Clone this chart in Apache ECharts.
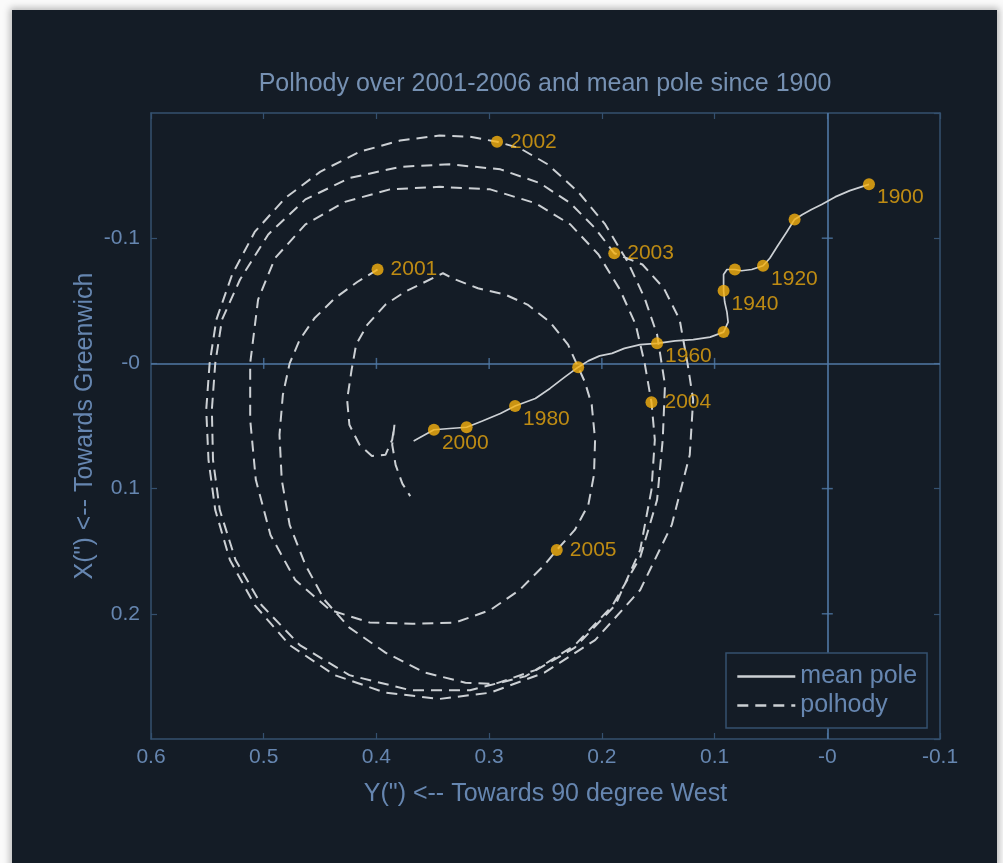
<!DOCTYPE html>
<html>
<head>
<meta charset="utf-8">
<script src="https://cdn.jsdelivr.net/npm/echarts@6/dist/echarts.min.js"></script>
<style>
  html, body { margin: 0; padding: 0; width: 1003px; height: 863px; overflow: hidden; background: #fafafa; }
  #panel { position: absolute; left: 12px; top: 10px; width: 985px; height: 880px; background: #141c26;
           box-shadow: 0 0 7px 2px rgba(0, 0, 0, 0.28); }
  #chart { position: absolute; left: 0; top: 0; width: 1003px; height: 863px; }
</style>
</head>
<body>
<div id="panel"></div>
<div id="chart"></div>
<script>
// Axis ticks (arcseconds)
const xTickValues = [-0.1, 0, 0.1, 0.2, 0.3, 0.4, 0.5, 0.6];
const xTickLabels = ['-0.1', '-0', '0.1', '0.2', '0.3', '0.4', '0.5', '0.6'];
const yTickValues = [-0.2, -0.1, 0, 0.1, 0.2, 0.3];
const yTickLabels = ['', '-0.1', '-0', '0.1', '0.2', ''];

// Mean pole path since 1900: Y (towards 90 W) and X (towards Greenwich)
const meanPoleY = [-0.037, -0.020, -0.007, 0.005, 0.014, 0.022, 0.029, 0.036, 0.044, 0.051, 0.057,
  0.067, 0.076, 0.082, 0.089, 0.092, 0.092, 0.092, 0.091, 0.089, 0.088, 0.092, 0.104, 0.119, 0.135,
  0.151, 0.166, 0.180, 0.191, 0.202, 0.212, 0.221, 0.233, 0.246, 0.259, 0.277, 0.290, 0.306, 0.320,
  0.335, 0.349, 0.361, 0.367];
const meanPoleX = [-0.143, -0.138, -0.133, -0.127, -0.123, -0.119, -0.115, -0.105, -0.094, -0.084, -0.078,
  -0.075, -0.074, -0.075, -0.075, -0.071, -0.064, -0.058, -0.049, -0.041, -0.033, -0.025, -0.021, -0.019, -0.018,
  -0.016, -0.015, -0.012, -0.008, -0.006, -0.002, 0.003, 0.011, 0.020, 0.028, 0.034, 0.040, 0.046, 0.051,
  0.052, 0.053, 0.059, 0.062];

// Mean pole every ten years
const decadeYears = [1900, 1910, 1920, 1930, 1940, 1950, 1960, 1970, 1980, 1990, 2000];
const decadeY = [-0.037, 0.029, 0.057, 0.082, 0.092, 0.092, 0.151, 0.221, 0.277, 0.320, 0.349];
const decadeX = [-0.143, -0.115, -0.078, -0.075, -0.058, -0.025, -0.016, 0.003, 0.034, 0.051, 0.053];
const decadeLabelled = [1900, 1920, 1940, 1960, 1980, 2000];

// Polhody 2001-2006, one row per year
const polhodyY = [
  // 2001
  0.399, 0.417, 0.437, 0.455, 0.468, 0.477, 0.483, 0.486, 0.484, 0.477, 0.463, 0.446, 0.424, 0.392, 0.357, 0.321,
  0.295, 0.259, 0.224, 0.191, 0.166, 0.151, 0.146, 0.144, 0.151, 0.162, 0.177, 0.197, 0.221, 0.248, 0.273,
  // 2002
  0.293, 0.317, 0.344, 0.379, 0.415, 0.450, 0.481, 0.508, 0.528, 0.542, 0.548, 0.551, 0.549, 0.543, 0.530, 0.508,
  0.477, 0.437, 0.392, 0.344, 0.299, 0.251, 0.206, 0.166, 0.138, 0.122, 0.119, 0.124, 0.131, 0.145, 0.164,
  // 2003
  0.189, 0.206, 0.228, 0.255, 0.290, 0.335, 0.379, 0.424, 0.463, 0.496, 0.521, 0.537, 0.543, 0.546, 0.545, 0.539,
  0.525, 0.502, 0.468, 0.424, 0.370, 0.317, 0.268, 0.224, 0.188, 0.166, 0.156, 0.153,
  // 2004
  0.156, 0.162, 0.170, 0.184, 0.203, 0.228, 0.259, 0.299, 0.344, 0.388, 0.428, 0.463, 0.490, 0.505, 0.512, 0.512,
  0.507, 0.494, 0.472, 0.441, 0.406, 0.368, 0.330, 0.299, 0.273, 0.251,
  // 2005
  0.240, 0.224, 0.212, 0.207, 0.206, 0.209, 0.215, 0.221, 0.230, 0.246, 0.266, 0.286, 0.310, 0.330, 0.341, 0.357,
  0.375, 0.392, 0.408, 0.418, 0.422, 0.426, 0.424, 0.415, 0.404, 0.392, 0.386, 0.384, 0.386, 0.383, 0.377, 0.370];
const polhodyX = [
  // 2001
  -0.075, -0.065, -0.052, -0.036, -0.019, 0.000, 0.025, 0.057, 0.093, 0.129, 0.161, 0.189, 0.211, 0.231, 0.247, 0.255,
  0.256, 0.245, 0.225, 0.194, 0.155, 0.109, 0.061, 0.017, -0.023, -0.052, -0.081, -0.111, -0.137, -0.159, -0.172,
  // 2002
  -0.177, -0.181, -0.182, -0.178, -0.169, -0.153, -0.132, -0.105, -0.071, -0.035, 0.000, 0.037, 0.077, 0.117, 0.157, 0.193,
  0.225, 0.249, 0.263, 0.268, 0.263, 0.247, 0.221, 0.181, 0.129, 0.073, 0.029, 0.000, -0.035, -0.060, -0.079,
  // 2003
  -0.088, -0.108, -0.128, -0.144, -0.155, -0.159, -0.157, -0.148, -0.131, -0.103, -0.067, -0.035, 0.000, 0.037, 0.077, 0.117,
  0.157, 0.193, 0.225, 0.249, 0.261, 0.261, 0.250, 0.227, 0.193, 0.149, 0.101, 0.061,
  // 2004
  0.031, 0.000, -0.031, -0.059, -0.087, -0.111, -0.128, -0.139, -0.141, -0.139, -0.129, -0.111, -0.084, -0.051, 0.000, 0.045,
  0.093, 0.137, 0.173, 0.197, 0.207, 0.208, 0.207, 0.197, 0.181, 0.161,
  // 2005
  0.149, 0.133, 0.113, 0.089, 0.061, 0.033, 0.015, 0.003, -0.015, -0.033, -0.047, -0.055, -0.060, -0.067, -0.072, -0.065,
  -0.057, -0.047, -0.031, -0.015, 0.005, 0.029, 0.049, 0.065, 0.074, 0.073, 0.061, 0.049, 0.065, 0.081, 0.096, 0.106];

// Start of each year along the polhody
const polhodyYears = [2001, 2002, 2003, 2004, 2005];
const polhodyYearY = [0.399, 0.293, 0.189, 0.156, 0.240];
const polhodyYearX = [-0.075, -0.177, -0.088, 0.031, 0.149];

// Ticks drawn across the zero lines
const zeroLineYTicks = [0.1, 0.2, 0.3, 0.4, 0.5];
const zeroLineXTicks = [-0.1, 0.1, 0.2];

const AXIS = '#34506f';
const ZERO = '#5079a6';
const TEXT = '#6686b0';
const LINE = '#ccd0d4';
const GOLD = '#f6b20f';
const LABEL = '#e8a70f';
const FONT = 'Liberation Sans, Arial, Helvetica, sans-serif';

function pairs(a, b) { return a.map((v, i) => [v, b[i]]); }
function tickText(values, labels) {
  return v => {
    const i = values.findIndex(t => Math.abs(t - v) < 1e-9);
    return i >= 0 ? labels[i] : '';
  };
}

const chart = echarts.init(document.getElementById('chart'), null, { renderer: 'canvas' });

const baseX = {
  type: 'value', min: -0.1, max: 0.6, interval: 0.1, inverse: true,
  splitLine: { show: false },
  axisLine: { show: true, onZero: false, lineStyle: { color: AXIS, width: 1.5 } },
  axisTick: { show: true, inside: true, length: 6, lineStyle: { color: AXIS, width: 1.2 } }
};
const baseY = {
  type: 'value', min: -0.2, max: 0.3, interval: 0.1, inverse: true,
  splitLine: { show: false },
  axisLine: { show: true, onZero: false, lineStyle: { color: AXIS, width: 1.5 } },
  axisTick: { show: true, inside: true, length: 6, lineStyle: { color: AXIS, width: 1.2 } }
};

chart.setOption({
  backgroundColor: 'transparent',
  animation: false,
  textStyle: { fontFamily: FONT },
  title: {
    text: 'Polhody over 2001-2006 and mean pole since 1900',
    left: 540, top: 67, textAlign: 'center',
    textStyle: { color: '#7691b3', fontSize: 25, fontWeight: 'normal', fontFamily: FONT }
  },
  grid: { left: 151, right: 63, top: 113, bottom: 124, containLabel: false },
  xAxis: [
    Object.assign({}, baseX, {
      position: 'bottom',
      name: 'Y(") <-- Towards 90 degree West', nameLocation: 'middle', nameGap: 43,
      nameTextStyle: { color: TEXT, fontSize: 25, fontFamily: FONT },
      axisLabel: { color: TEXT, fontSize: 21, margin: 8, fontFamily: FONT, formatter: tickText(xTickValues, xTickLabels) }
    }),
    Object.assign({}, baseX, { position: 'top', axisLabel: { show: false } })
  ],
  yAxis: [
    Object.assign({}, baseY, {
      position: 'left',
      name: 'X(") <-- Towards Greenwich', nameLocation: 'middle', nameGap: 53, nameRotate: 90,
      nameMoveOverlap: false,
      nameTextStyle: { color: TEXT, fontSize: 25, fontFamily: FONT },
      axisLabel: { color: TEXT, fontSize: 21, margin: 11, fontFamily: FONT,
        showMinLabel: false, showMaxLabel: false, formatter: tickText(yTickValues, yTickLabels) }
    }),
    Object.assign({}, baseY, { position: 'right', axisLabel: { show: false } })
  ],
  legend: {
    orient: 'vertical', left: 726, top: 653,
    padding: [11, 10, 10, 10], itemGap: 4, itemWidth: 58, itemHeight: 14,
    backgroundColor: '#141c26', borderColor: AXIS, borderWidth: 1.5,
    itemStyle: { opacity: 0 },
    lineStyle: { width: 2.6 },
    textStyle: { color: TEXT, fontSize: 25, fontFamily: FONT, padding: [0, 0, 0, 0] },
    data: ['mean pole', 'polhody']
  },
  series: [
    {
      name: 'mean pole', type: 'line', data: pairs(meanPoleY, meanPoleX),
      symbol: 'none', smooth: false, z: 4,
      itemStyle: { color: LINE },
      lineStyle: { color: LINE, width: 1.7 },
      markLine: {
        silent: true, symbol: 'none', z: 1,
        label: { show: false },
        lineStyle: { color: ZERO, width: 1.6, type: 'solid' },
        data: [{ xAxis: 0 }, { yAxis: 0 }]
      }
    },
    {
      name: 'polhody', type: 'line', data: pairs(polhodyY, polhodyX),
      symbol: 'none', smooth: false, z: 3,
      itemStyle: { color: LINE },
      lineStyle: { color: LINE, width: 2, type: [11, 7] }
    },
    {
      type: 'scatter', z: 2, silent: true, symbol: 'rect', symbolSize: [1.5, 11],
      itemStyle: { color: ZERO },
      data: zeroLineYTicks.map(v => [v, 0])
    },
    {
      type: 'scatter', z: 2, silent: true, symbol: 'rect', symbolSize: [11, 1.5],
      itemStyle: { color: ZERO },
      data: zeroLineXTicks.map(v => [0, v])
    },
    {
      type: 'scatter', z: 6, symbolSize: 12, itemStyle: { color: GOLD },
      data: decadeYears.map((yr, i) => ({
        value: [decadeY[i], decadeX[i]],
        label: {
          show: decadeLabelled.includes(yr), formatter: String(yr), position: 'right',
          offset: [-3, 13], color: LABEL, fontSize: 21, fontFamily: FONT
        }
      }))
    },
    {
      type: 'scatter', z: 6, symbolSize: 12, itemStyle: { color: GOLD },
      label: { show: true, position: 'right', distance: 7, color: LABEL, fontSize: 21, fontFamily: FONT,
        formatter: p => String(p.data.year) },
      data: polhodyYears.map((yr, i) => ({ value: [polhodyYearY[i], polhodyYearX[i]], year: yr }))
    }
  ]
});
</script>
</body>
</html>
